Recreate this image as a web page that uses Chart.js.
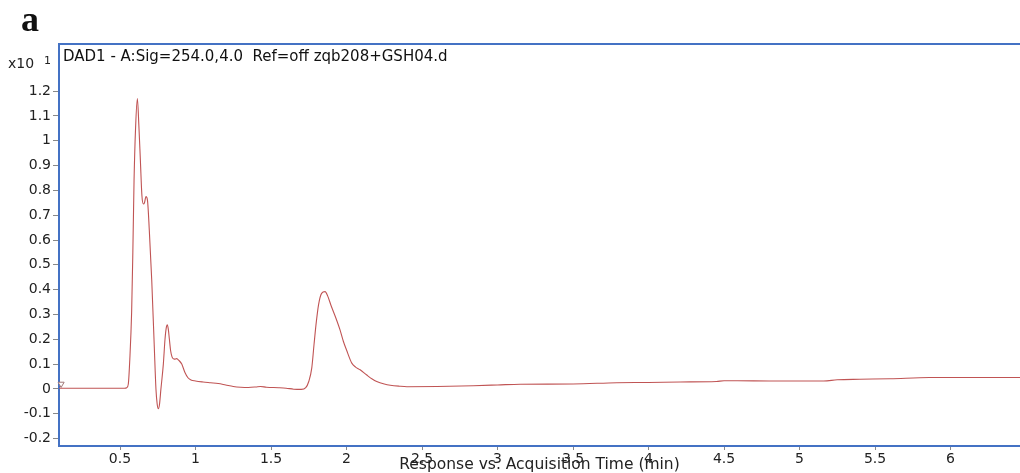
<!DOCTYPE html>
<html>
<head>
<meta charset="utf-8">
<script src="https://cdn.jsdelivr.net/npm/chart.js@4/dist/chart.umd.min.js"></script>
<style>
  body { margin: 0; background: #fff; }
  #wrap { width: 1020px; height: 473px; }
</style>
</head>
<body>
<div id="wrap"><canvas id="chromChart" width="1020" height="473"></canvas></div>
<script>
// retention time (min) and response (x10^1)
const times = [
  0.096, 0.2, 0.4, 0.53, 0.545, 0.555, 0.565, 0.577, 0.585, 0.593,
  0.603, 0.615, 0.625, 0.635, 0.645, 0.655, 0.662, 0.672, 0.682, 0.694,
  0.71, 0.727, 0.738, 0.746, 0.754, 0.762, 0.771, 0.787, 0.798, 0.806,
  0.813, 0.82, 0.827, 0.835, 0.845, 0.86, 0.875, 0.89, 0.909, 0.93,
  0.95, 0.97, 1.0, 1.05, 1.1, 1.15, 1.2, 1.25, 1.3, 1.35,
  1.4, 1.43, 1.47, 1.55, 1.6, 1.65, 1.7, 1.73, 1.75, 1.77,
  1.785, 1.8, 1.815, 1.835, 1.858, 1.875, 1.9, 1.93, 1.957, 1.98,
  2.0, 2.035, 2.06, 2.09, 2.134, 2.17, 2.2, 2.25, 2.29, 2.35,
  2.4, 2.6, 2.84, 3.0, 3.15, 3.5, 3.79, 4.0, 4.21, 4.45,
  4.5, 4.59, 4.8, 5.16, 5.25, 5.4, 5.6, 5.86, 6.1, 6.46
];
const signal = [
  0.003, 0.003, 0.003, 0.003, 0.005, 0.02, 0.12, 0.31, 0.55, 0.84,
  1.05, 1.17, 1.06, 0.92, 0.78, 0.745, 0.75, 0.775, 0.76, 0.64,
  0.44, 0.17, 0.0, -0.06, -0.08, -0.06, 0.0, 0.1, 0.2, 0.245,
  0.258, 0.24, 0.2, 0.155, 0.128, 0.12, 0.122, 0.115, 0.1, 0.066,
  0.045, 0.036, 0.032, 0.028, 0.025, 0.022, 0.016, 0.01, 0.007, 0.006,
  0.008, 0.01, 0.007, 0.005, 0.003, -0.001, -0.002, 0.005, 0.03, 0.085,
  0.18, 0.27, 0.34, 0.385, 0.392, 0.375, 0.332, 0.285, 0.238, 0.19,
  0.157, 0.104, 0.088, 0.077, 0.056, 0.04, 0.03, 0.02, 0.015, 0.011,
  0.009, 0.01, 0.013, 0.016, 0.019, 0.02, 0.025, 0.026, 0.028, 0.03,
  0.033, 0.033, 0.032, 0.032, 0.037, 0.039, 0.041, 0.046, 0.046, 0.046
];

const xTickValues = [0.5, 1, 1.5, 2, 2.5, 3, 3.5, 4, 4.5, 5, 5.5, 6];
const yTickValues = [-0.2, -0.1, 0, 0.1, 0.2, 0.3, 0.4, 0.5, 0.6, 0.7, 0.8, 0.9, 1, 1.1, 1.2];
const xRange = [0.096, 6.46];
const yRange = [-0.23, 1.39];

// start-of-run marker (small open triangle)
const markerTime = [0.11];
const markerValue = [0.02];

const signalTitle = "DAD1 - A:Sig=254.0,4.0  Ref=off zqb208+GSH04.d";
const xTitle = "Response vs. Acquisition Time (min)";

const frameBlue = "#4472c4";
const traceRed = "rgb(192,84,84)";

const points = times.map((t, i) => ({ x: t, y: signal[i] }));
const markers = markerTime.map((t, i) => ({ x: t, y: markerValue[i] }));

function fmt(v) {
  return String(Number(v.toFixed(1)));
}

const extras = {
  id: "extras",
  afterDraw(chart) {
    const ctx = chart.ctx;
    const a = chart.chartArea;
    ctx.save();
    // top frame line
    ctx.strokeStyle = frameBlue;
    ctx.lineWidth = 2;
    ctx.beginPath();
    ctx.moveTo(a.left - 1, a.top);
    ctx.lineTo(a.right, a.top);
    ctx.stroke();

    ctx.fillStyle = "#111";
    ctx.textBaseline = "middle";
    ctx.textAlign = "left";
    // panel letter
    ctx.font = "bold 36px 'Liberation Serif'";
    ctx.fillText("a", 21, 22);
    // signal title
    ctx.font = "15px 'DejaVu Sans'";
    ctx.fillText(signalTitle, 63, 57);
    // y multiplier
    ctx.fillStyle = "#222";
    ctx.font = "14px 'DejaVu Sans'";
    ctx.fillText("x10", 8, 64);
    ctx.font = "11px 'DejaVu Sans'";
    ctx.fillText("1", 44, 61);
    ctx.restore();
  }
};

new Chart(document.getElementById("chromChart"), {
  type: "line",
  data: {
    datasets: [{
      data: points,
      borderColor: traceRed,
      borderWidth: 1.1,
      pointRadius: 0,
      cubicInterpolationMode: "monotone",
      fill: false
    }, {
      data: markers,
      showLine: false,
      pointStyle: "triangle",
      rotation: 180,
      pointRadius: 3.5,
      borderWidth: 1,
      borderColor: "#a07878",
      backgroundColor: "#fff",
      clip: false
    }]
  },
  options: {
    responsive: false,
    animation: false,
    devicePixelRatio: 1,
    layout: { autoPadding: false, padding: { top: 44, left: 0, right: 0, bottom: 0 } },
    plugins: {
      legend: { display: false },
      tooltip: { enabled: false }
    },
    scales: {
      x: {
        type: "linear",
        min: xRange[0],
        max: xRange[1],
        afterBuildTicks: s => { s.ticks = xTickValues.map(v => ({ value: v })); },
        afterFit: s => { s.height = 27; s.paddingLeft = 0; s.paddingRight = 0; },
        grid: { drawOnChartArea: false, drawTicks: true, tickLength: 4, color: "#888" },
        border: { display: true, color: frameBlue, width: 2 },
        ticks: {
          autoSkip: false,
          maxRotation: 0,
          padding: 1,
          color: "#222",
          font: { family: "'DejaVu Sans'", size: 14 },
          callback: v => fmt(v)
        },
        title: {
          display: true,
          text: xTitle,
          color: "#222",
          font: { family: "'DejaVu Sans'", size: 15.5, lineHeight: 1 },
          padding: { top: 0, bottom: 0 }
        }
      },
      y: {
        type: "linear",
        min: yRange[0],
        max: yRange[1],
        afterBuildTicks: s => { s.ticks = yTickValues.map(v => ({ value: v })); },
        afterFit: s => { s.width = 59; s.paddingTop = 0; s.paddingBottom = 0; },
        grid: { drawOnChartArea: false, drawTicks: true, tickLength: 6, color: "#888" },
        border: { display: true, color: frameBlue, width: 2 },
        ticks: {
          padding: 2,
          color: "#222",
          font: { family: "'DejaVu Sans'", size: 14 },
          callback: v => fmt(v)
        }
      }
    }
  },
  plugins: [extras]
});
</script>
</body>
</html>
